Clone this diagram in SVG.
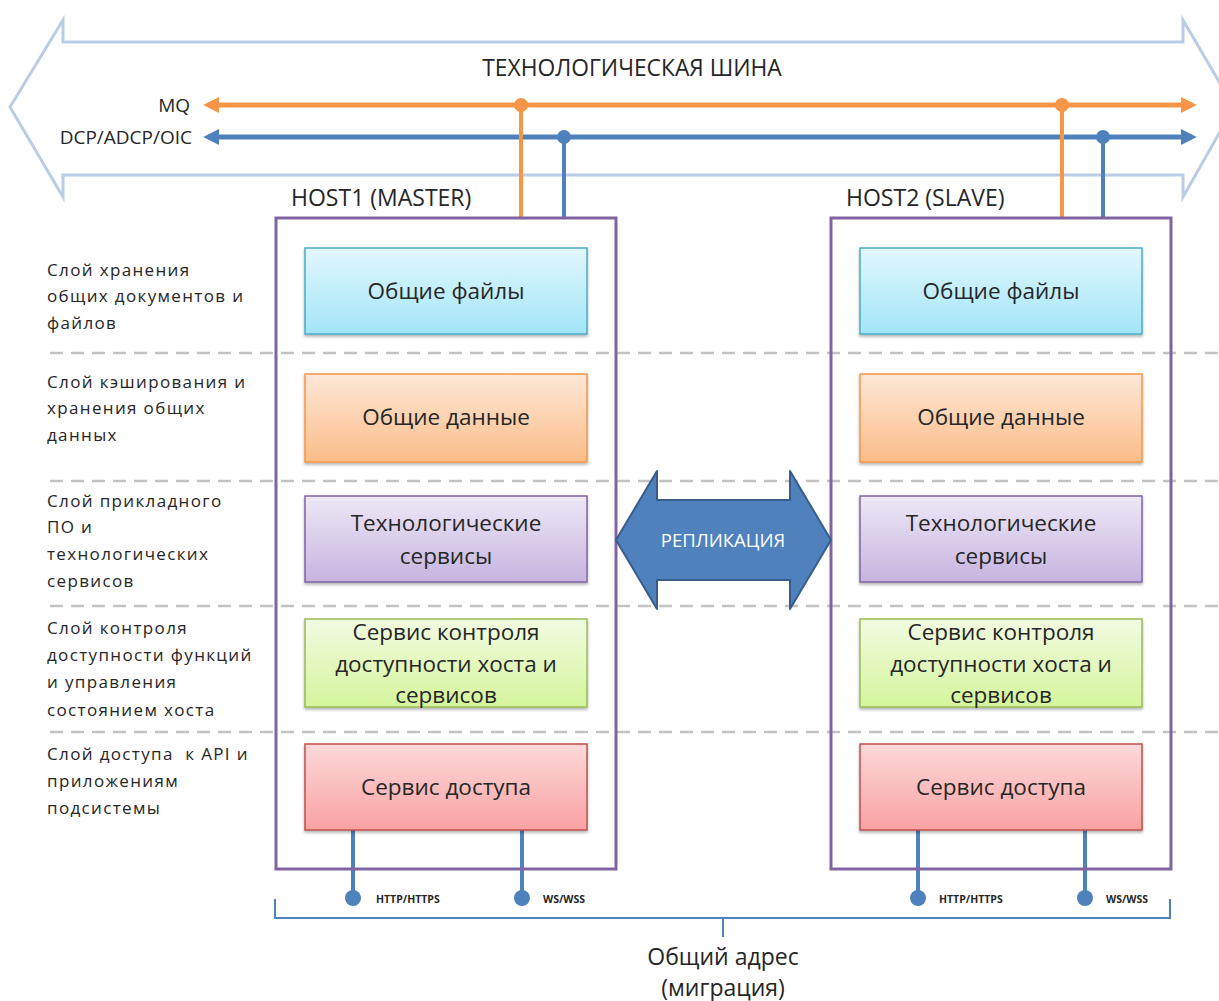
<svg xmlns="http://www.w3.org/2000/svg" width="1219" height="1001" viewBox="0 0 1219 1001">
  <defs>
    <style>
      text { font-family: "Open Sans", "Liberation Sans", sans-serif; fill: #262626; }
      .layer { font-size: 17px; letter-spacing: 1.35px; }
      .box-label { font-size: 22.5px; text-anchor: middle; }
      .host-title { font-size: 23px; }
      .bus-label { font-size: 19px; text-anchor: end; }
      .port { font-size: 10.5px; font-weight: bold; }
      .sep { stroke: #c3c3c3; stroke-width: 2.5; stroke-dasharray: 13 8; fill: none; }
      .host { fill: none; stroke: #8064a2; stroke-width: 3; }
      .mq { stroke: #f79646; stroke-width: 5; fill: none; }
      .dcp { stroke: #4f81bd; stroke-width: 5; fill: none; }
      .drop-mq { stroke: #f79646; stroke-width: 4; fill: none; }
      .drop-dcp { stroke: #4f81bd; stroke-width: 4; fill: none; }
      .api { stroke: #4f81bd; stroke-width: 4; fill: none; }
      .bracket { stroke: #4f81bd; stroke-width: 2; fill: none; }
      .files { fill: url(#gFiles); stroke: #4bacc6; }
      .data { fill: url(#gData); stroke: #f79646; }
      .svc { fill: url(#gSvc); stroke: #8064a2; }
      .ctl { fill: url(#gCtl); stroke: #9bbb59; }
      .acc { fill: url(#gAcc); stroke: #c0504d; }
      .files, .data, .svc, .ctl, .acc { stroke-width: 1.5; filter: url(#shadow); }
    </style>
    <linearGradient id="gFiles" x1="0" y1="0" x2="0" y2="1">
      <stop offset="0" stop-color="#e2f7fd"/>
      <stop offset="1" stop-color="#a2e5f8"/>
    </linearGradient>
    <linearGradient id="gData" x1="0" y1="0" x2="0" y2="1">
      <stop offset="0" stop-color="#fde7d8"/>
      <stop offset="1" stop-color="#fbbd88"/>
    </linearGradient>
    <linearGradient id="gSvc" x1="0" y1="0" x2="0" y2="1">
      <stop offset="0" stop-color="#eee8f6"/>
      <stop offset="1" stop-color="#c6b4e0"/>
    </linearGradient>
    <linearGradient id="gCtl" x1="0" y1="0" x2="0" y2="1">
      <stop offset="0" stop-color="#f2fbe2"/>
      <stop offset="1" stop-color="#d4f59c"/>
    </linearGradient>
    <linearGradient id="gAcc" x1="0" y1="0" x2="0" y2="1">
      <stop offset="0" stop-color="#fdd9d9"/>
      <stop offset="1" stop-color="#f9a2a2"/>
    </linearGradient>
    <filter id="shadow" x="-5%" y="-10%" width="110%" height="130%">
      <feDropShadow dx="0" dy="2" stdDeviation="1.5" flood-color="#000" flood-opacity="0.3"/>
    </filter>
    <marker id="headMq" viewBox="0 0 10 10" refX="7" refY="5" markerWidth="3.2" markerHeight="3.2" orient="auto-start-reverse" markerUnits="strokeWidth">
      <path d="M0 0 L10 5 L0 10 z" fill="#f79646"/>
    </marker>
    <marker id="headDcp" viewBox="0 0 10 10" refX="7" refY="5" markerWidth="3.2" markerHeight="3.2" orient="auto-start-reverse" markerUnits="strokeWidth">
      <path d="M0 0 L10 5 L0 10 z" fill="#4f81bd"/>
    </marker>
  </defs>

  <rect width="1219" height="1001" fill="#ffffff"/>

  <!-- technology bus: double-headed outline arrow -->
  <g id="bus">
    <path d="M63 42 L63 20 L10 107 L63 197 L63 175 L1183 175 L1183 197 L1234 107 L1183 20 L1183 42 Z" fill="none" stroke="#b9cde5" stroke-width="3" stroke-linejoin="miter"/>
    <text x="632" y="76" font-size="22.8" text-anchor="middle">ТЕХНОЛОГИЧЕСКАЯ ШИНА</text>
    <text class="bus-label" x="190" y="112">MQ</text>
    <text class="bus-label" x="192" y="144">DCP/ADCP/OIC</text>
  </g>

  <!-- layer separators -->
  <g id="separators">
    <line class="sep" x1="50" y1="353" x2="1219" y2="353"/>
    <line class="sep" x1="50" y1="481" x2="1219" y2="481"/>
    <line class="sep" x1="50" y1="606" x2="1219" y2="606"/>
    <line class="sep" x1="50" y1="732" x2="1219" y2="732"/>
  </g>

  <!-- layer captions -->
  <g id="layers">
    <text class="layer" x="47" y="276">Слой хранения</text>
    <text class="layer" x="47" y="302">общих документов и</text>
    <text class="layer" x="47" y="329">файлов</text>
    <text class="layer" x="47" y="388">Слой кэширования и</text>
    <text class="layer" x="47" y="414">хранения общих</text>
    <text class="layer" x="47" y="441">данных</text>
    <text class="layer" x="47" y="507">Слой прикладного</text>
    <text class="layer" x="47" y="533">ПО и</text>
    <text class="layer" x="47" y="560">технологических</text>
    <text class="layer" x="47" y="587">сервисов</text>
    <text class="layer" x="47" y="634">Слой контроля</text>
    <text class="layer" x="47" y="661">доступности функций</text>
    <text class="layer" x="47" y="688">и управления</text>
    <text class="layer" x="47" y="716">состоянием хоста</text>
    <text class="layer" x="47" y="760" xml:space="preserve">Слой доступа  к API и</text>
    <text class="layer" x="47" y="787">приложениям</text>
    <text class="layer" x="47" y="814">подсистемы</text>
  </g>

  <!-- connectors -->
  <g id="connectors">
    <line class="mq" x1="208" y1="105" x2="1192" y2="105" marker-start="url(#headMq)" marker-end="url(#headMq)"/>
    <line class="dcp" x1="208" y1="137" x2="1192" y2="137" marker-start="url(#headDcp)" marker-end="url(#headDcp)"/>
    <line class="drop-mq" x1="521" y1="105" x2="521" y2="218"/>
    <line class="drop-dcp" x1="564" y1="137" x2="564" y2="218"/>
    <line class="drop-mq" x1="1062" y1="105" x2="1062" y2="218"/>
    <line class="drop-dcp" x1="1103" y1="137" x2="1103" y2="218"/>
    <circle cx="521" cy="105" r="7" fill="#f79646"/>
    <circle cx="564" cy="137" r="7" fill="#4f81bd"/>
    <circle cx="1062" cy="105" r="7" fill="#f79646"/>
    <circle cx="1103" cy="137" r="7" fill="#4f81bd"/>

    <line class="api" x1="353" y1="830" x2="353" y2="898"/>
    <line class="api" x1="522" y1="830" x2="522" y2="898"/>
    <line class="api" x1="918" y1="830" x2="918" y2="898"/>
    <line class="api" x1="1085" y1="830" x2="1085" y2="898"/>
    <circle cx="353" cy="898" r="8" fill="#4f81bd"/>
    <circle cx="522" cy="898" r="8" fill="#4f81bd"/>
    <circle cx="918" cy="898" r="8" fill="#4f81bd"/>
    <circle cx="1085" cy="898" r="8" fill="#4f81bd"/>
    <text class="port" x="376" y="903">HTTP/HTTPS</text>
    <text class="port" x="543" y="903">WS/WSS</text>
    <text class="port" x="939" y="903">HTTP/HTTPS</text>
    <text class="port" x="1106" y="903">WS/WSS</text>

    <path class="bracket" d="M275 899 V918 H1170 V899"/>
    <line class="bracket" x1="723" y1="918" x2="723" y2="937"/>
  </g>

  <!-- host 1 -->
  <g id="host1">
    <text class="host-title" x="291" y="206">HOST1 (MASTER)</text>
    <rect class="host" x="276" y="218" width="340" height="651"/>
    <g id="host1-files">
      <rect class="files" x="305" y="248" width="282" height="86"/>
      <text class="box-label" x="446" y="299">Общие файлы</text>
    </g>
    <g id="host1-data">
      <rect class="data" x="305" y="374" width="282" height="88"/>
      <text class="box-label" x="446" y="425">Общие данные</text>
    </g>
    <g id="host1-services">
      <rect class="svc" x="305" y="496" width="282" height="86"/>
      <text class="box-label" x="446" y="531">Технологические</text>
      <text class="box-label" x="446" y="564">сервисы</text>
    </g>
    <g id="host1-control">
      <rect class="ctl" x="305" y="619" width="282" height="88"/>
      <text class="box-label" x="446" y="640">Сервис контроля</text>
      <text class="box-label" x="446" y="672">доступности хоста и</text>
      <text class="box-label" x="446" y="703">сервисов</text>
    </g>
    <g id="host1-access">
      <rect class="acc" x="305" y="744" width="282" height="86"/>
      <text class="box-label" x="446" y="795">Сервис доступа</text>
    </g>
  </g>

  <!-- host 2 -->
  <g id="host2">
    <text class="host-title" x="846" y="206">HOST2 (SLAVE)</text>
    <rect class="host" x="831" y="218" width="340" height="651"/>
    <g id="host2-files">
      <rect class="files" x="860" y="248" width="282" height="86"/>
      <text class="box-label" x="1001" y="299">Общие файлы</text>
    </g>
    <g id="host2-data">
      <rect class="data" x="860" y="374" width="282" height="88"/>
      <text class="box-label" x="1001" y="425">Общие данные</text>
    </g>
    <g id="host2-services">
      <rect class="svc" x="860" y="496" width="282" height="86"/>
      <text class="box-label" x="1001" y="531">Технологические</text>
      <text class="box-label" x="1001" y="564">сервисы</text>
    </g>
    <g id="host2-control">
      <rect class="ctl" x="860" y="619" width="282" height="88"/>
      <text class="box-label" x="1001" y="640">Сервис контроля</text>
      <text class="box-label" x="1001" y="672">доступности хоста и</text>
      <text class="box-label" x="1001" y="703">сервисов</text>
    </g>
    <g id="host2-access">
      <rect class="acc" x="860" y="744" width="282" height="86"/>
      <text class="box-label" x="1001" y="795">Сервис доступа</text>
    </g>
  </g>

  <!-- replication arrow -->
  <g id="replication">
    <path d="M616 540 L657 471 L657 500 L790 500 L790 471 L831 540 L790 609 L790 580 L657 580 L657 609 Z" fill="#4f81bd" stroke="#385d8a" stroke-width="2" stroke-linejoin="round"/>
    <text x="723" y="547" font-size="18.5" text-anchor="middle" style="fill:#ffffff">РЕПЛИКАЦИЯ</text>
  </g>

  <!-- shared address caption -->
  <g id="shared-address">
    <text x="723" y="965" font-size="23" text-anchor="middle">Общий адрес</text>
    <text x="723" y="996" font-size="23" text-anchor="middle">(миграция)</text>
  </g>
</svg>
